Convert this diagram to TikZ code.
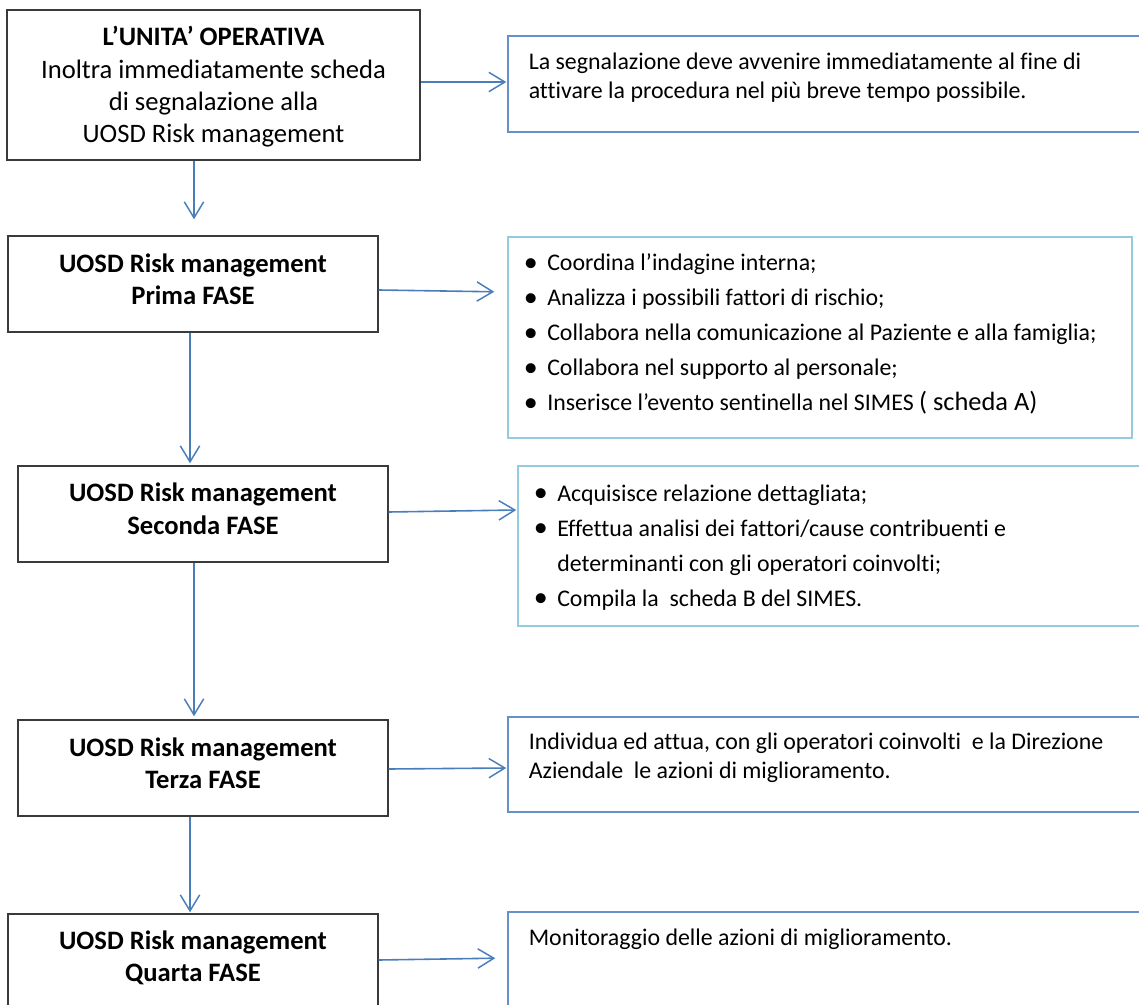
\documentclass[tikz,border=0pt]{standalone}
\usepackage{fontspec}
\setmainfont{Carlito}[Ligatures=NoCommon]
\usetikzlibrary{arrows.meta}
\definecolor{arrowblue}{HTML}{4A7EBB}
\definecolor{boxgray}{HTML}{3A3A3A}
\definecolor{noteblue}{HTML}{6690CA}
\definecolor{notecyan}{HTML}{93CDDD}
\newcommand{\bulletmark}{\llap{{\fontsize{21pt}{22pt}\selectfont\raisebox{-0.4pt}{•}}\hspace{7pt}}}
\begin{document}
\begin{tikzpicture}[x=0.75pt,y=-0.75pt,
  stepbox/.style={draw=boxgray, line width=1.1pt, rectangle, inner sep=0pt,
    minimum width=277.5pt, minimum height=72pt},
  notebox/.style={draw=noteblue, line width=1.1pt, rectangle, inner sep=0pt},
  cyanbox/.style={draw=notecyan, line width=1.1pt, rectangle, inner sep=0pt},
  bigtxt/.style={inner sep=0pt, anchor=base, font=\fontsize{19.95pt}{24pt}\selectfont},
  bigbold/.style={bigtxt, font=\fontsize{19.95pt}{24pt}\selectfont\bfseries},
  smalltxt/.style={inner sep=0pt, anchor=base west, font=\fontsize{17.9pt}{22pt}\selectfont},
  flow/.style={draw=arrowblue, line width=1.2pt,
    -{Straight Barb[length=12pt, width=14.5pt, line width=1.1pt]}}
]
\path[use as bounding box] (0,0) rectangle (1139,1005);

% left column boxes
\node[stepbox, minimum width=309.75pt, minimum height=112.5pt] (B0) at (213.5,85) {};
\node[stepbox] (B1) at (193,284) {};
\node[stepbox] (B2) at (203,514) {};
\node[stepbox] (B3) at (203,768) {};
\node[stepbox] (B4) at (193,962) {};

% right column boxes
\node[notebox, minimum width=481.5pt, minimum height=72pt] (R1) at (829,84) {};
\node[cyanbox, minimum width=468pt, minimum height=150.75pt] (R2) at (820,337.5) {};
\node[cyanbox, minimum width=474pt, minimum height=120pt] (R3) at (834,546) {};
\node[notebox, minimum width=481.5pt, minimum height=71.25pt] (R4) at (829,764.5) {};
\node[notebox, minimum width=481.5pt, minimum height=73.5pt] (R5) at (829,961) {};

% left texts
\node[bigbold] (B0a) at (213.5,46) {L’UNITA’ OPERATIVA};
\node[bigtxt] (B0b) at (213.5,78.3) {Inoltra immediatamente scheda};
\node[bigtxt] (B0c) at (213.5,110.7) {di segnalazione alla};
\node[bigtxt] (B0d) at (213.5,143) {UOSD Risk management};

\node[bigbold] (B1a) at (193,272.7) {UOSD Risk management};
\node[bigbold] (B1b) at (193,304.5) {Prima FASE};
\node[bigbold] (B2a) at (203,502) {UOSD Risk management};
\node[bigbold] (B2b) at (203,534) {Seconda FASE};
\node[bigbold] (B3a) at (203,756.7) {UOSD Risk management};
\node[bigbold] (B3b) at (203,788.5) {Terza FASE};
\node[bigbold] (B4a) at (193,949.5) {UOSD Risk management};
\node[bigbold] (B4b) at (193,981.5) {Quarta FASE};

% right texts
\node[smalltxt] (R1a) at (528.5,69.3) {La segnalazione deve avvenire immediatamente al fine di};
\node[smalltxt] (R1b) at (528.5,98.3) {attivare la procedura nel più breve tempo possibile.};

\node[smalltxt] (R2a) at (547,271) {\bulletmark Coordina l’indagine interna;};
\node[smalltxt] (R2b) at (547,306) {\bulletmark Analizza i possibili fattori di rischio;};
\node[smalltxt] (R2c) at (547,341) {\bulletmark Collabora nella comunicazione al Paziente e alla famiglia;};
\node[smalltxt] (R2d) at (547,376) {\bulletmark Collabora nel supporto al personale;};
\node[smalltxt] (R2e) at (547,411) {\bulletmark Inserisce l’evento sentinella nel SIMES {\fontsize{19.8pt}{22pt}\selectfont( scheda A)}};

\node[smalltxt] (R3a) at (557,501) {\bulletmark Acquisisce relazione dettagliata;};
\node[smalltxt] (R3b) at (557,536) {\bulletmark Effettua analisi dei fattori/cause contribuenti e};
\node[smalltxt] (R3c) at (557,571) {determinanti con gli operatori coinvolti;};
\node[smalltxt] (R3d) at (557,606) {\bulletmark Compila la\ \ scheda B del SIMES.};

\node[smalltxt] (R4a) at (528.5,749.3) {Individua ed attua, con gli operatori coinvolti\ \ e la Direzione};
\node[smalltxt] (R4b) at (528.5,778.3) {Aziendale\ \ le azioni di miglioramento.};

\node[smalltxt] (R5a) at (528.5,945) {Monitoraggio delle azioni di miglioramento.};

% axes for vertical connectors
\coordinate (axA) at (194,0);
\coordinate (axB) at (190,0);

% vertical connectors
\draw[flow, shorten >=12pt] (B0.south -| axA) -- (B1.north -| axA);
\draw[flow, shorten >=1.5pt] (B1.south -| axB) -- (B2.north -| axB);
\draw[flow, shorten >=2.25pt] (B2.south -| axA) -- (B3.north -| axA);
\draw[flow, shorten >=0.75pt] (B3.south -| axB) -- (B4.north -| axB);

% horizontal connectors
\draw[flow, shorten >=0.75pt] ([yshift=2.25pt]B0.east) -- ([yshift=2.25pt]B0.east -| R1.west);
\draw[flow, shorten >=9.75pt] ([yshift=-4.5pt]B1.east) -- ([yshift=-6pt]B1.east -| R2.west);
\draw[flow, shorten >=0.75pt] ([yshift=1.5pt]B2.east) -- ([yshift=3pt]B2.east -| R3.west);
\draw[flow, shorten >=0.75pt] ([yshift=-0.75pt]B3.east) -- (B3.east -| R4.west);
\draw[flow, shorten >=9pt] ([yshift=1.5pt]B4.east) -- ([yshift=3pt]B4.east -| R5.west);
\end{tikzpicture}
\end{document}
